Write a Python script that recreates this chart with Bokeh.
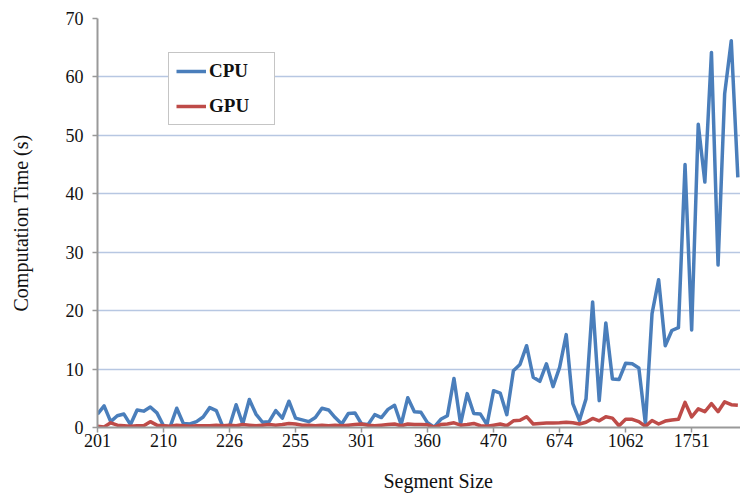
from bokeh.plotting import figure
from bokeh.models import Range1d, FixedTicker, Legend, LegendItem, Title
from bokeh.embed import file_html
from bokeh.resources import INLINE

# ---- data ----
tick_labels = ["201", "210", "226", "255", "301", "360", "470", "674", "1062", "1751"]
tick_every = 10

cpu = [2.3, 3.7, 1.0, 2.0, 2.3, 0.5, 3.0, 2.8, 3.5, 2.5,
       0.3, 0.1, 3.3, 0.7, 0.6, 1.0, 1.8, 3.4, 2.9, 0.1,
       0.2, 3.9, 0.6, 4.8, 2.3, 0.9, 1.0, 2.9, 1.6, 4.5,
       1.6, 1.3, 1.0, 1.7, 3.3, 3.0, 1.7, 0.6, 2.4, 2.5,
       0.6, 0.5, 2.2, 1.7, 3.1, 3.8, 0.5, 5.1, 2.7, 2.6,
       0.8, 0.05, 1.4, 2.0, 8.4, 0.6, 5.8, 2.4, 2.3, 0.5,
       6.3, 5.9, 2.2, 9.7, 10.8, 14.0, 8.6, 7.9, 10.9, 7.0,
       10.3, 15.9, 4.1, 1.2, 4.9, 21.5, 4.6, 17.9, 8.3, 8.2,
       11.0, 10.9, 10.2, 0.6, 19.5, 25.3, 14.0, 16.6, 17.1, 45.0,
       16.7, 51.9, 42.0, 64.2, 27.8, 57.1, 66.2, 42.8]

gpu = [0.2, 0.1, 0.8, 0.4, 0.3, 0.2, 0.3, 0.3, 1.0, 0.4,
       0.3, 0.2, 0.4, 0.3, 0.2, 0.3, 0.3, 0.3, 0.4, 0.3,
       0.4, 0.3, 0.5, 0.4, 0.3, 0.4, 0.5, 0.4, 0.5, 0.7,
       0.6, 0.4, 0.4, 0.3, 0.4, 0.3, 0.4, 0.3, 0.4, 0.5,
       0.6, 0.4, 0.3, 0.4, 0.5, 0.6, 0.3, 0.6, 0.5, 0.5,
       0.45, 0.05, 0.5, 0.6, 0.8, 0.4, 0.5, 0.7, 0.3, 0.2,
       0.4, 0.6, 0.3, 1.15, 1.25, 1.85, 0.6, 0.7, 0.75, 0.75,
       0.8, 0.9, 0.8, 0.6, 0.9, 1.55, 1.15, 1.85, 1.6, 0.3,
       1.4, 1.4, 1.0, 0.2, 1.2, 0.6, 1.1, 1.3, 1.4, 4.3,
       1.8, 3.2, 2.7, 4.1, 2.7, 4.4, 3.9, 3.8]

x = list(range(len(cpu)))

FONT = "Liberation Serif"

p = figure(width=740, height=495, output_backend="svg", toolbar_location=None,
           x_range=Range1d(0, len(cpu) - 0.6), y_range=Range1d(0, 70),
           min_border_left=97, min_border_right=0, min_border_top=18,
           min_border_bottom=68)

p.outline_line_color = None
p.background_fill_color = "white"
p.border_fill_color = "white"

r_cpu = p.line(x, cpu, line_color="#4a7ebb", line_width=3.5, line_join="round")
r_gpu = p.line(x, gpu, line_color="#be4b48", line_width=3.5, line_join="round")

# axes
tick_pos = [i * tick_every for i in range(len(tick_labels))]
p.xaxis.ticker = FixedTicker(ticks=tick_pos)
p.xaxis.major_label_overrides = {tp: lab for tp, lab in zip(tick_pos, tick_labels)}
p.yaxis.ticker = FixedTicker(ticks=list(range(0, 71, 10)))

for ax in (p.xaxis[0], p.yaxis[0]):
    ax.axis_line_color = "#999999"
    ax.axis_line_width = 2
    ax.major_tick_line_color = "#999999"
    ax.major_tick_line_width = 1.5
    ax.major_tick_out = 5
    ax.major_tick_in = 0
    ax.minor_tick_line_color = None
    ax.major_label_text_font = FONT
    ax.major_label_text_font_size = "18px"
    ax.major_label_text_color = "#111111"
    ax.axis_label_text_font = FONT
    ax.axis_label_text_font_size = "20px"
    ax.axis_label_text_font_style = "normal"
    ax.axis_label_text_color = "#111111"

p.xaxis.major_label_standoff = 1
p.yaxis.axis_label = "Computation Time (s)"
p.yaxis.major_label_standoff = 9
p.yaxis.axis_label_standoff = 31

# x-axis title, placed as in the reference (right of the frame centre)
xtitle = Title(text="Segment Size", align="left", offset=286, standoff=0,
               text_font=FONT, text_font_size="20px", text_font_style="normal",
               text_color="#111111")
try:
    xtitle.padding = dict(left=0, right=0, top=18, bottom=0)
except Exception:
    xtitle.standoff = 14
p.add_layout(xtitle, "below")

p.xgrid.grid_line_color = None
p.ygrid.grid_line_color = "#b7c7e2"
p.ygrid.grid_line_width = 1.5

legend = Legend(items=[LegendItem(label="CPU", renderers=[r_cpu]),
                       LegendItem(label="GPU", renderers=[r_gpu])],
                location=(71, 302), orientation="vertical")
legend.label_text_font = FONT
legend.label_text_font_style = "bold"
legend.label_text_font_size = "19px"
legend.label_text_color = "#111111"
legend.glyph_width = 30
legend.glyph_height = 18
legend.label_height = 18
legend.label_width = 58
legend.label_standoff = 3
legend.spacing = 13
legend.padding = 7
legend.margin = 0
legend.border_line_color = "#8c8c8c"
legend.border_line_width = 1.5
legend.background_fill_color = "white"
legend.background_fill_alpha = 1.0
p.add_layout(legend, "center")

open("out.html", "w").write(file_html(p, INLINE))
